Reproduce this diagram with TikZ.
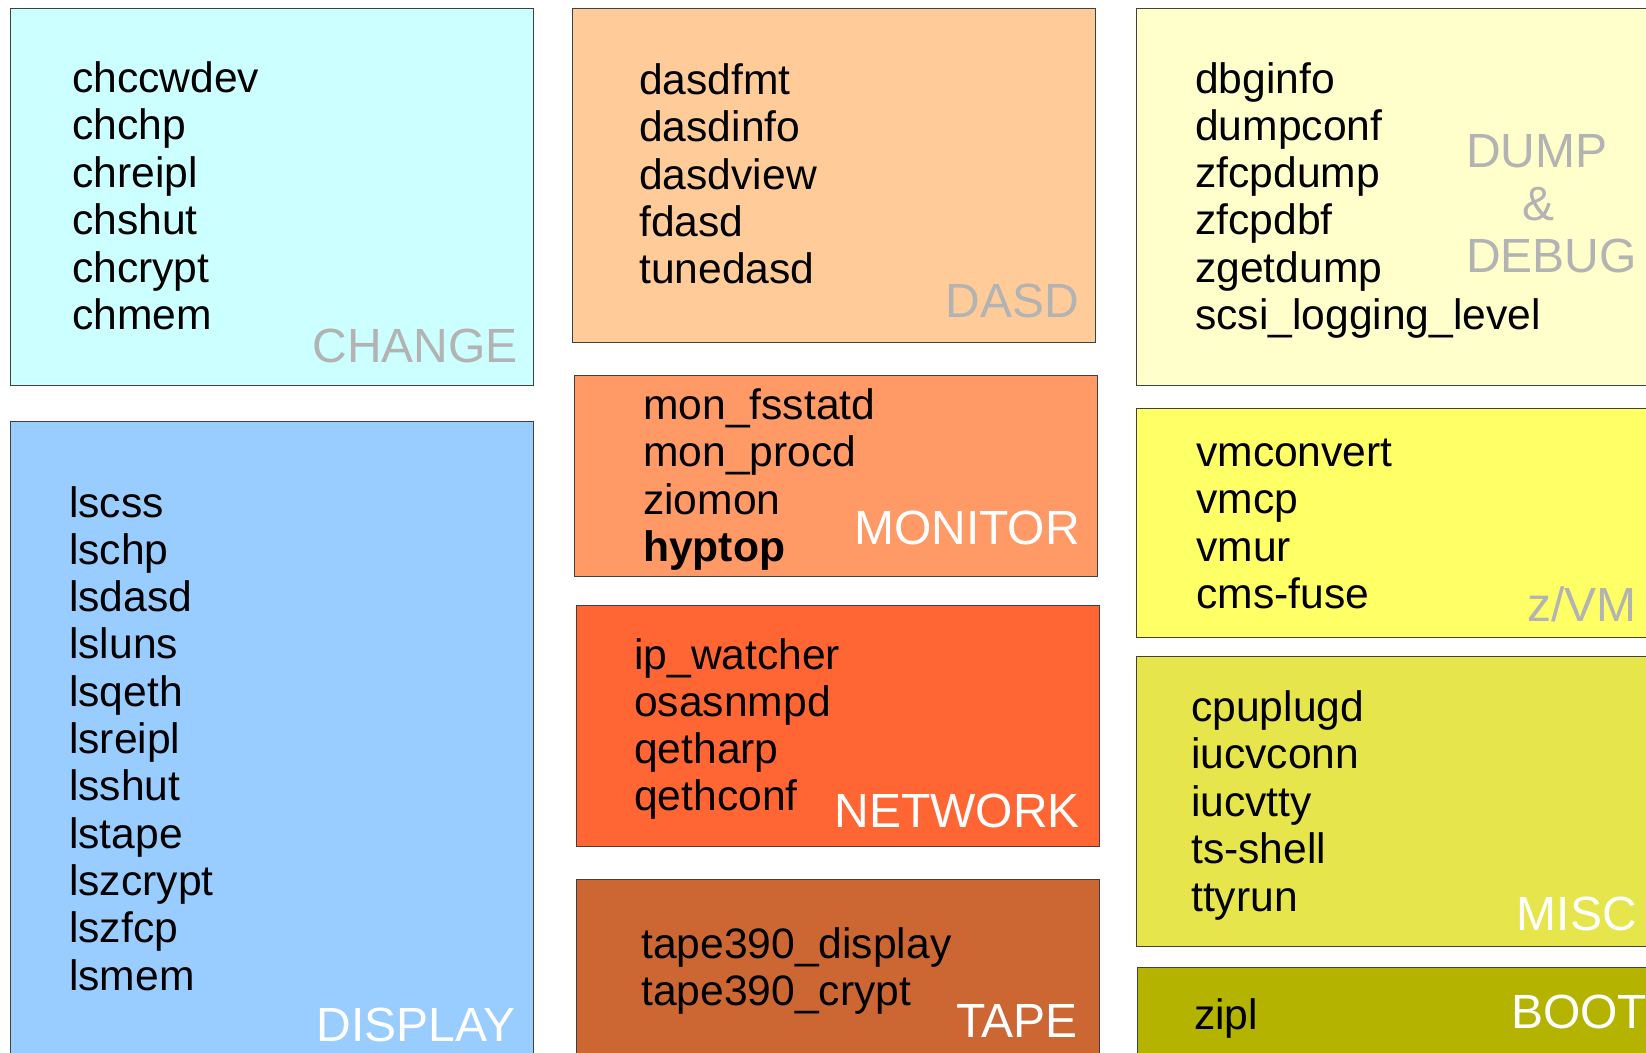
\documentclass[tikz,border=0pt]{standalone}
\usepackage{fontspec}
\setmainfont{Liberation Sans}

% panel fills
\definecolor{cChange}{HTML}{CCFFFF}
\definecolor{cDisplay}{HTML}{99CCFF}
\definecolor{cDasd}{HTML}{FFCC99}
\definecolor{cMonitor}{HTML}{FF9966}
\definecolor{cNetwork}{HTML}{FF6633}
\definecolor{cTape}{HTML}{CC6633}
\definecolor{cDump}{HTML}{FFFFCC}
\definecolor{cZvm}{HTML}{FFFF66}
\definecolor{cMisc}{HTML}{E6E64C}
\definecolor{cBoot}{HTML}{B3B300}
\definecolor{tagGray}{HTML}{B3B3B3}

\tikzset{
  panel/.style={draw=black!75, line width=1pt},
  cmd/.style={anchor=base west, inner sep=0pt, font=\fontsize{42.6}{48}\selectfont},
  tag/.style={anchor=base east, inner sep=0pt, font=\fontsize{48}{54}\selectfont},
}

% one command name per line, first baseline at y, fixed line pitch
\newcommand\cmdlist[5]{%
  \foreach \w [count=\i from 0] in {#5}
    \node[cmd] (#1-\i) at (#2, {#3+\i*#4}) {\w};%
}

\begin{document}
\begin{tikzpicture}[x=1pt,y=-1pt]
\useasboundingbox (0,0) rectangle (1646,1052);
\fill[white] (0,0) rectangle (1646,1052);

% left column
\path[panel, fill=cChange]  (10.5,8.5) rectangle (533,385);
\path[panel, fill=cDisplay] (10.5,421) rectangle (533,1070);

% middle column
\path[panel, fill=cDasd]    (572,8.5) rectangle (1095,342);
\path[panel, fill=cMonitor] (574,375) rectangle (1097,576);
\path[panel, fill=cNetwork] (576,605) rectangle (1099,846);
\path[panel, fill=cTape]    (576,879) rectangle (1099,1070);

% right column
\path[panel, fill=cDump]    (1136,8.5) rectangle (1670,385);
\path[panel, fill=cZvm]     (1136,408) rectangle (1670,637);
\path[panel, fill=cMisc]    (1136,656) rectangle (1670,946);
\path[panel, fill=cBoot]    (1137,967) rectangle (1670,1070);

% command lists
\cmdlist{chg}{72}{92.5}{47.4}{chccwdev,chchp,chreipl,chshut,chcrypt,chmem}
\cmdlist{dsp}{69}{517}{47.3}{lscss,lschp,lsdasd,lsluns,lsqeth,lsreipl,lsshut,lstape,lszcrypt,lszfcp,lsmem}
\cmdlist{dsd}{639}{94.5}{47.3}{dasdfmt,dasdinfo,dasdview,fdasd,tunedasd}
\cmdlist{mon}{643}{419}{47.5}{mon\_fsstatd,mon\_procd,ziomon,{\bfseries hyptop}}
\cmdlist{net}{634}{669}{47}{ip\_watcher,osasnmpd,qetharp,qethconf}
\cmdlist{tap}{641}{958}{47}{tape390\_display,tape390\_crypt}
\cmdlist{dmp}{1195}{93}{47.3}{dbginfo,dumpconf,zfcpdump,zfcpdbf,zgetdump,scsi\_logging\_level}
\cmdlist{zvm}{1196}{466.5}{47.3}{vmconvert,vmcp,vmur,cms-fuse}
\cmdlist{msc}{1191}{721}{47.5}{cpuplugd,iucvconn,iucvtty,ts-shell,ttyrun}
\cmdlist{bot}{1194}{1029}{47.5}{zipl}

% group captions
\node[tag, text=tagGray] (tChange)  at (518,362)   {CHANGE};
\node[tag, text=white]   (tDisplay) at (516,1041)  {DISPLAY};
\node[tag, text=tagGray] (tDasd)    at (1079,317.5){DASD};
\node[tag, text=white]   (tMonitor) at (1080,544)  {MONITOR};
\node[tag, text=white]   (tNetwork) at (1080,827.5){NETWORK};
\node[tag, text=white]   (tTape)    at (1078,1037) {TAPE};
\node[tag, text=tagGray, anchor=base west] (tDump)  at (1466,167)   {DUMP};
\node[tag, text=tagGray, anchor=base]      (tAmp)   at (1538,220)   {\&};
\node[tag, text=tagGray, anchor=base west] (tDebug) at (1466,272)   {DEBUG};
\node[tag, text=tagGray] (tZvm)     at (1637,621)  {z/VM};
\node[tag, text=white]   (tMisc)    at (1637,930)  {MISC};
\node[tag, text=white, anchor=base west] (tBoot) at (1511,1028) {BOOT};
\end{tikzpicture}
\end{document}
